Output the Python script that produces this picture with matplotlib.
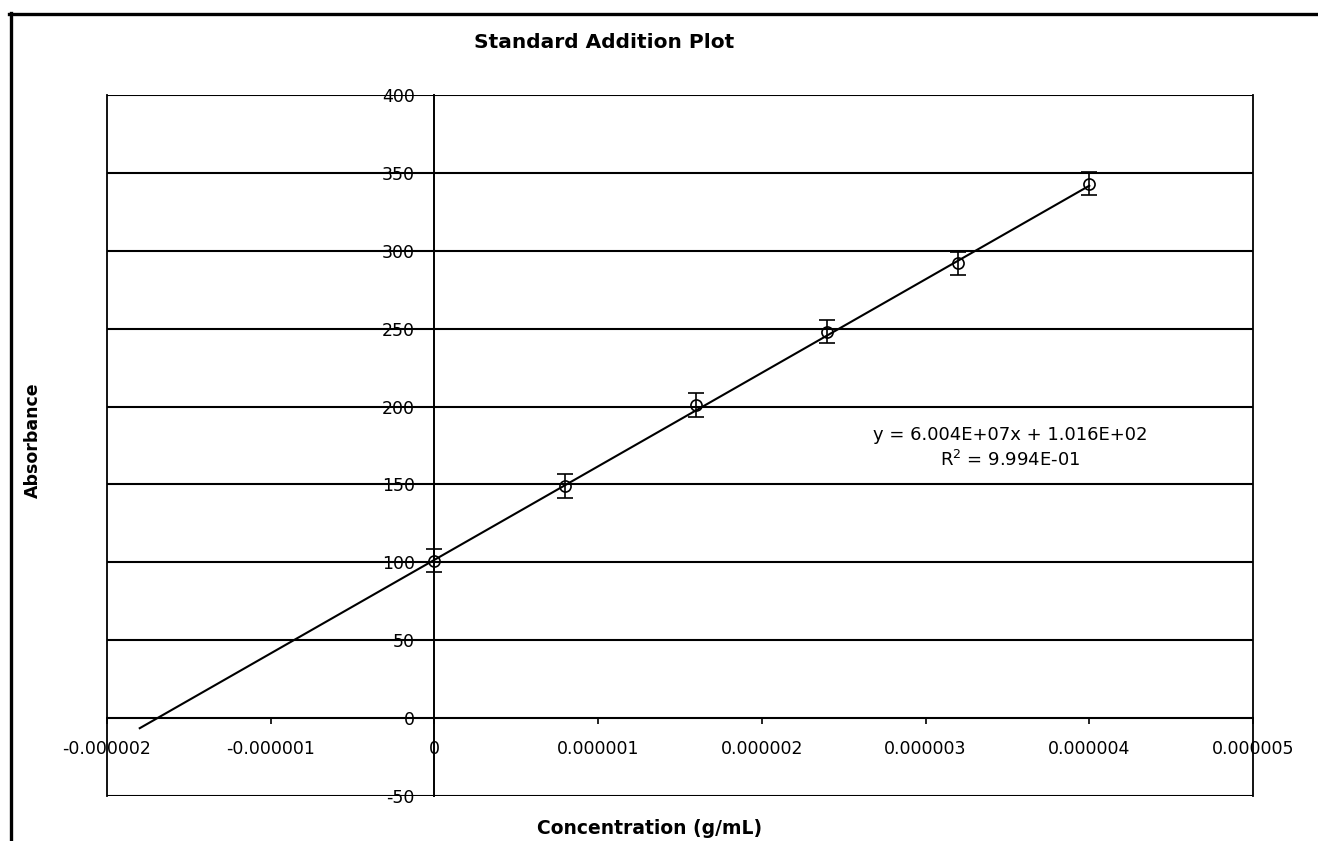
import numpy as np
import matplotlib
matplotlib.use("Agg")
import matplotlib.pyplot as plt
from matplotlib.lines import Line2D

# Standard addition data: added analyte concentration vs. measured absorbance
concentration = [0.0, 0.8e-6, 1.6e-6, 2.4e-6, 3.2e-6, 4.0e-6]
absorbance = [101, 149, 201, 248, 292, 343]
abs_error = [7.5, 7.5, 7.5, 7.5, 7.5, 7.5]

# Least-squares fit reported on the chart
slope = 6.004e7
intercept = 1.016e2
r_squared = 0.9994
fit_start = -1.8e-6  # trendline projected back toward the x-intercept

x_ticks = [-2e-6, -1e-6, 0, 1e-6, 2e-6, 3e-6, 4e-6, 5e-6]
x_tick_labels = ["-0.000002", "-0.000001", "0", "0.000001", "0.000002",
                 "0.000003", "0.000004", "0.000005"]
y_ticks = [-50, 0, 50, 100, 150, 200, 250, 300, 350, 400]

plt.rcParams["font.family"] = ["DejaVu Sans"]
plt.rcParams["axes.unicode_minus"] = False

W, H = 1318, 841
fig = plt.figure(figsize=(W / 100, H / 100), dpi=100)
ax = fig.add_axes([107 / W, 1 - 796 / H, (1253 - 107) / W, (796 - 95) / H])

ax.set_xlim(-2e-6, 5e-6)
ax.set_ylim(-50, 400)

# Axes cross at the origin; the outer box is drawn separately
ax.spines["left"].set_position(("data", 0))
ax.spines["bottom"].set_position(("data", 0))
ax.spines["top"].set_visible(False)
ax.spines["right"].set_visible(False)
for s in ("left", "bottom"):
    ax.spines[s].set_linewidth(1.4)
    ax.spines[s].set_color("black")

ax.set_yticks(y_ticks)
ax.set_yticklabels([str(v) for v in y_ticks])
ax.set_xticks(x_ticks)
ax.set_xticklabels(x_tick_labels)
ax.tick_params(axis="y", length=0, pad=14, labelsize=12.5)
ax.tick_params(axis="x", direction="out", length=4, width=1.2, pad=12,
               labelsize=12.5)

# Horizontal gridlines (also form the top and bottom of the plot box)
ax.yaxis.grid(True, color="black", linewidth=1.5)
ax.set_axisbelow(True)
ax.axvline(-2e-6, color="black", linewidth=1.3, clip_on=False)
ax.axvline(5e-6, color="black", linewidth=1.3, clip_on=False)

# Trendline from the reported regression coefficients
fit_x = np.array([fit_start, max(concentration)])
ax.plot(fit_x, slope * fit_x + intercept, color="black", linewidth=1.5,
        zorder=3)

# Measured points with error bars
ax.errorbar(concentration, absorbance, yerr=abs_error, fmt="o",
            mfc="none", mec="black", mew=1.2, ms=8, ecolor="black",
            elinewidth=1.2, capsize=5.5, capthick=1.6, zorder=4)

ax.text(3.516e-6, 173.5,
        f"y = {slope:.3E}x + {intercept:.3E}\nR$^2$ = {r_squared:.3E}",
        ha="center", va="center", multialignment="center", fontsize=13,
        linespacing=1.4, zorder=5,
        bbox=dict(facecolor="white", edgecolor="none", pad=1))

fig.text(604 / W, 1 - 43 / H, "Standard Addition Plot", ha="center",
         va="center", fontsize=14.5, fontweight="bold")
fig.text(33 / W, 1 - 440 / H, "Absorbance", ha="center", va="center",
         rotation=90, fontsize=12.5, fontweight="bold")
fig.text(650 / W, 1 - 829 / H, "Concentration (g/mL)", ha="center",
         va="center", fontsize=13.5, fontweight="bold")

# Outer chart frame
fig.add_artist(Line2D([11 / W, 11 / W], [0, 1 - 13 / H], color="black",
                      linewidth=2.4, transform=fig.transFigure))
fig.add_artist(Line2D([9 / W, 1], [1 - 14 / H, 1 - 14 / H], color="black",
                      linewidth=2.4, transform=fig.transFigure))

fig.savefig("out.png", dpi=100)
